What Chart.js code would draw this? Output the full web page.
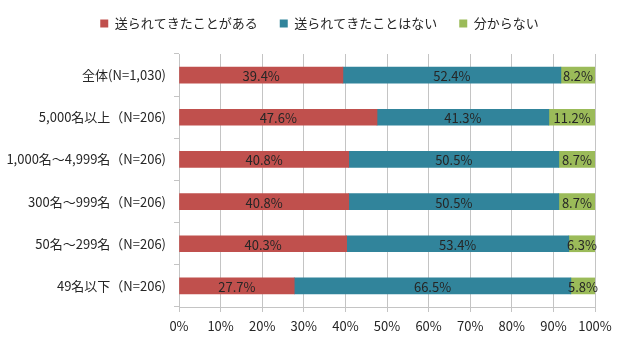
<!DOCTYPE html>
<html>
<head>
<meta charset="utf-8">
<script src="https://cdn.jsdelivr.net/npm/chart.js@4"></script>
<style>
  html, body { margin: 0; padding: 0; background: #fff; }
  #wrap { width: 620px; height: 342px; }
</style>
</head>
<body>
<div id="wrap"><canvas id="chart" width="620" height="342"></canvas></div>
<script>
// ----------------------------
// DATA
// ----------------------------
const categories = [
  "全体(N=1,030)",
  "5,000名以上（N=206)",
  "1,000名～4,999名（N=206)",
  "300名～999名（N=206)",
  "50名～299名（N=206)",
  "49名以下（N=206)",
];
const seriesNames = ["送られてきたことがある", "送られてきたことはない", "分からない"];
const sentValues = [39.4, 47.6, 40.8, 40.8, 40.3, 27.7];
const notSentValues = [52.4, 41.3, 50.5, 50.5, 53.4, 66.5];
const unknownValues = [8.2, 11.2, 8.7, 8.7, 6.3, 5.8];
const xTicks = [0, 10, 20, 30, 40, 50, 60, 70, 80, 90, 100];

const colors = ["#C0504D", "#31849B", "#9BBB59"];
const FONT = "'Noto Sans CJK JP', 'Noto Sans', sans-serif";

// ----------------------------
// LABELS INSIDE BARS
// ----------------------------
const barLabels = {
  id: "barLabels",
  afterDatasetsDraw(chart) {
    const ctx = chart.ctx;
    ctx.save();
    ctx.font = "13px " + FONT;
    ctx.fillStyle = "#262626";
    ctx.textAlign = "center";
    ctx.textBaseline = "middle";
    chart.data.datasets.forEach((ds, i) => {
      chart.getDatasetMeta(i).data.forEach((bar, j) => {
        const x = (bar.x + bar.base) / 2;
        ctx.fillText(ds.data[j].toFixed(1) + "%", x, bar.y + 1);
      });
    });
    ctx.restore();
  },
};

// nudge the legend to where the original sits
const legendShift = {
  id: "legendShift",
  afterLayout(chart) {
    const lg = chart.legend;
    if (!lg) return;
    lg.left += 22;
    lg.right += 22;
    lg.top -= 14;
    lg.bottom -= 14;
  },
};

// ----------------------------
// CHART
// ----------------------------
new Chart(document.getElementById("chart"), {
  type: "bar",
  data: {
    labels: categories,
    datasets: [
      { label: seriesNames[0], data: sentValues, backgroundColor: colors[0] },
      { label: seriesNames[1], data: notSentValues, backgroundColor: colors[1] },
      { label: seriesNames[2], data: unknownValues, backgroundColor: colors[2] },
    ],
  },
  options: {
    indexAxis: "y",
    responsive: false,
    animation: false,
    datasets: { bar: { barThickness: 16, borderWidth: 0 } },
    layout: { padding: { top: 9, right: 25, left: 0, bottom: 0 } },
    plugins: {
      tooltip: { enabled: false },
      legend: {
        position: "top",
        labels: {
          boxWidth: 8,
          boxHeight: 8,
          padding: 22,
          color: "#262626",
          font: { family: FONT, size: 13 },
        },
      },
    },
    scales: {
      x: {
        stacked: true,
        min: 0,
        max: 100,
        afterBuildTicks: (scale) => {
          scale.ticks = xTicks.map((v) => ({ value: v }));
        },
        afterFit: (scale) => { scale.height = 35; },
        ticks: {
          color: "#262626",
          font: { family: FONT, size: 13 },
          padding: 6,
          callback: (v) => v + "%",
        },
        grid: { color: "#c4c4c4", tickLength: 5 },
        border: { color: "#c4c4c4" },
      },
      y: {
        stacked: true,
        afterFit: (scale) => { scale.width = 179; },
        ticks: {
          color: "#262626",
          font: { family: FONT, size: 13 },
          padding: 8,
        },
        grid: {
          drawOnChartArea: false,
          offset: true,
          color: "#c4c4c4",
          tickLength: 5,
        },
        border: { color: "#c4c4c4" },
      },
    },
  },
  plugins: [barLabels, legendShift],
});
</script>
</body>
</html>
